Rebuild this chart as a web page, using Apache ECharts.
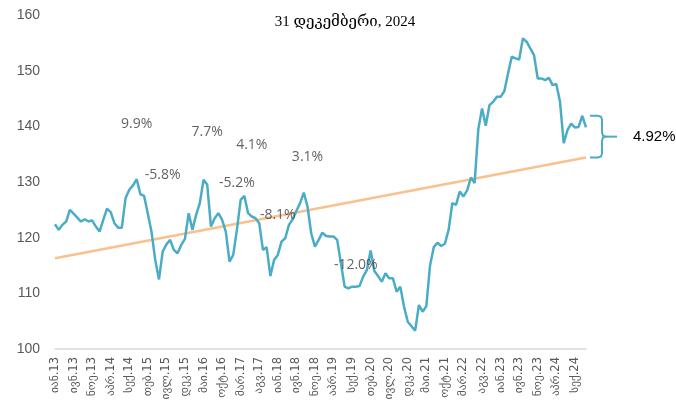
<!DOCTYPE html>
<html>
<head>
<meta charset="utf-8">
<script src="https://cdn.jsdelivr.net/npm/echarts@6/dist/echarts.min.js"></script>
<style>
  html, body { margin: 0; padding: 0; background: #fff; }
  #chart { width: 676px; height: 411px; }
</style>
</head>
<body>
<div id="chart"></div>
<script>
// Month abbreviations and years that make up the monthly category axis
const monthNames = ['იან', 'თებ', 'მარ', 'აპრ', 'მაი', 'ივნ', 'ივლ', 'აგვ', 'სექ', 'ოქტ', 'ნოე', 'დეკ'];
const years = ['13', '14', '15', '16', '17', '18', '19', '20', '21', '22', '23', '24'];

// Index level, January 2013 – December 2024
const indexValues = [
  122.4, 121.4, 122.3, 122.9, 125.0, 124.3, 123.6, 122.9, 123.3, 122.9, 123.1, 122.0,
  121.1, 123.2, 125.2, 124.6, 122.6, 121.8, 121.8, 127.1, 128.6, 129.4, 130.5, 127.8,
  127.5, 124.3, 121.0, 116.0, 112.5, 117.5, 118.8, 119.6, 117.8, 117.2, 118.7, 119.8,
  124.4, 121.4, 124.1, 126.2, 130.4, 129.5, 122.0, 123.5, 124.4, 123.2, 121.1, 115.7,
  116.9, 121.5, 126.8, 127.5, 124.4, 123.8, 123.5, 122.6, 117.8, 118.3, 113.1, 116.0,
  116.9, 119.3, 119.9, 122.3, 123.3, 124.8, 126.2, 128.1, 125.6, 120.8, 118.4, 119.6,
  120.9, 120.3, 120.2, 120.2, 119.6, 115.4, 111.2, 110.9, 111.2, 111.2, 111.3, 113.0,
  114.2, 117.7, 114.0, 113.1, 112.1, 113.6, 112.7, 112.7, 110.3, 111.2, 107.6, 104.9,
  104.1, 103.3, 107.9, 106.7, 107.7, 115.0, 118.3, 119.1, 118.5, 118.9, 121.4, 126.2,
  125.9, 128.3, 127.4, 128.5, 130.8, 129.8, 139.5, 143.2, 140.1, 143.8, 144.4, 145.3,
  145.3, 146.3, 149.5, 152.5, 152.2, 152.0, 155.8, 155.2, 154.0, 152.8, 148.6, 148.6,
  148.3, 148.7, 147.4, 147.6, 144.4, 137.0, 139.3, 140.5, 139.8, 139.9, 141.9, 139.8
];

// Long-run trend: start and end levels
const trendStart = 116.3;
const trendEnd = 134.4;

// Percentage annotations: [category index, level, text]
const annotations = [
  [22, 140.4, '9.9%'],
  [29, 131.3, '-5.8%'],
  [41, 138.9, '7.7%'],
  [49, 129.8, '-5.2%'],
  [53, 136.6, '4.1%'],
  [60, 124.1, '-8.1%'],
  [68, 134.5, '3.1%'],
  [81, 115.1, '-12.0%']
];

// Gap between the latest level and the trend
const gapTop = 141.9;
const gapLabel = '4.92%';

const titleText = '31 დეკემბერი, 2024';
const yTicks = { min: 100, max: 160, interval: 10 };

const categories = [];
years.forEach(y => monthNames.forEach(m => categories.push(m + '.' + y)));

const lastIdx = categories.length - 1;
const blue = '#4AACC6';
const orange = '#F9C18E';

const chart = echarts.init(document.getElementById('chart'));

chart.setOption({
  animation: false,
  backgroundColor: '#fff',
  title: {
    text: titleText,
    left: 340,
    top: 10,
    textAlign: 'center',
    textStyle: {
      fontFamily: '"Liberation Serif", "DejaVu Serif", serif',
      fontSize: 15,
      fontWeight: 'normal',
      color: '#000'
    }
  },
  grid: { left: 55, right: 90, top: 15, bottom: 62 },
  xAxis: {
    type: 'category',
    data: categories,
    boundaryGap: false,
    axisLine: { lineStyle: { color: '#D9D9D9', width: 1.5 } },
    axisTick: { show: false },
    axisLabel: {
      interval: 4,
      rotate: 90,
      margin: 8,
      fontSize: 11.5,
      color: '#595959',
      fontFamily: '"DejaVu Sans", Arial, sans-serif'
    },
    splitLine: { show: false }
  },
  yAxis: {
    type: 'value',
    min: yTicks.min,
    max: yTicks.max,
    interval: yTicks.interval,
    axisLine: { show: false },
    axisTick: { show: false },
    splitLine: { show: false },
    axisLabel: {
      fontSize: 14,
      color: '#595959',
      margin: 15,
      fontFamily: '"Liberation Sans", Arial, sans-serif'
    }
  },
  series: [
    {
      name: 'trend',
      type: 'line',
      data: [[0, trendStart], [lastIdx, trendEnd]],
      symbol: 'none',
      lineStyle: { color: orange, width: 2.5 },
      z: 2
    },
    {
      name: 'index',
      type: 'line',
      data: indexValues,
      symbol: 'none',
      lineStyle: { color: blue, width: 2.5 },
      z: 3
    },
    {
      name: 'notes',
      type: 'scatter',
      data: annotations.map(a => ({ value: [a[0], a[1]], text: a[2] })),
      symbolSize: 0,
      silent: true,
      z: 4,
      label: {
        show: true,
        position: 'inside',
        formatter: p => p.data.text,
        fontFamily: '"Open Sans", "Noto Sans", sans-serif',
        fontSize: 14,
        color: '#3A3A3A'
      }
    }
  ]
});

// Bracket marking the gap between the latest level and the trend end
const pTop = chart.convertToPixel({ xAxisIndex: 0, yAxisIndex: 0 }, [lastIdx, gapTop]);
const pBot = chart.convertToPixel({ xAxisIndex: 0, yAxisIndex: 0 }, [lastIdx, trendEnd]);
const x0 = pTop[0] + 4;
const x1 = pTop[0] + 16;
const x2 = pTop[0] + 31;
const r = 4;
const yT = pTop[1];
const yB = pBot[1];
const yM = (yT + yB) / 2;
const bracketStyle = { stroke: blue, lineWidth: 2, fill: null };

chart.setOption({
  graphic: [
    {
      type: 'polyline',
      shape: {
        points: [
          [x0, yT], [x1 - r, yT], [x1 - 1, yT + 1], [x1, yT + r],
          [x1, yM - r], [x1 + 1, yM - 1], [x1 + r, yM]
        ]
      },
      style: bracketStyle,
      silent: true
    },
    {
      type: 'polyline',
      shape: {
        points: [
          [x1 + r, yM], [x1 + 1, yM + 1], [x1, yM + r],
          [x1, yB - r], [x1 - 1, yB - 1], [x1 - r, yB], [x0, yB]
        ]
      },
      style: bracketStyle,
      silent: true
    },
    {
      type: 'line',
      shape: { x1: x1 + r, y1: yM, x2: x2, y2: yM },
      style: bracketStyle,
      silent: true
    },
    {
      type: 'text',
      x: x2 + 16,
      y: yM,
      style: {
        text: gapLabel,
        fontFamily: '"Liberation Sans", Arial, sans-serif',
        fontSize: 15,
        fill: '#000',
        verticalAlign: 'middle'
      }
    }
  ]
});
</script>
</body>
</html>
